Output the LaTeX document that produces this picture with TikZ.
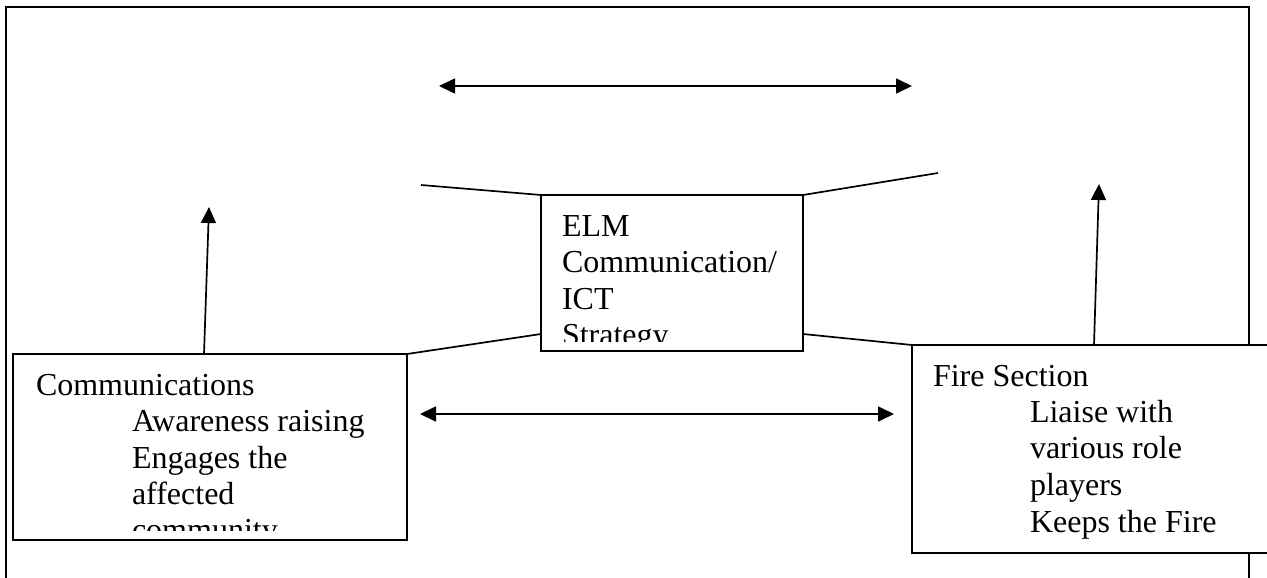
\documentclass[tikz,border=0pt]{standalone}
\usepackage{fontspec}
\setmainfont{Liberation Serif}
\usetikzlibrary{arrows.meta,calc}

\begin{document}
\begin{tikzpicture}[x=1pt,y=-1pt,
  boxnode/.style={draw,fill=white,line width=1.7pt,inner sep=0pt,outer sep=0pt,anchor=north west},
  link/.style={line width=1.7pt},
  uparrow/.style={line width=1.7pt,-{Triangle[length=16pt,width=15pt]}},
  twoway/.style={line width=1.7pt,{Triangle[length=16pt,width=15pt]}-{Triangle[length=16pt,width=15pt]}},
  txt/.style={font=\fontsize{32}{36.5}\selectfont,anchor=base west,inner sep=0pt,outer sep=0pt}
]
\useasboundingbox (0,0) rectangle (1267,578);
\clip (0,0) rectangle (1267,578);
\fill[white] (0,0) rectangle (1267,578);

% outer frame
\draw[line width=2.2pt] (6,7) rectangle (1249,620);

% boxes
\node[boxnode,minimum width=394pt,minimum height=186pt] (comm) at (13,354) {};
\node[boxnode,minimum width=262pt,minimum height=156pt] (elm) at (541,195) {};
\node[boxnode,minimum width=380pt,minimum height=208pt] (fire) at (912,345) {};

% box texts, cut at the inner margin of each box
\begin{scope}
  \clip (comm.north west) rectangle ($(comm.south east)+(0,-10)$);
  \node[txt] (c1) at (36,395) {Communications};
  \node[txt] (c2) at (132,431) {Awareness raising};
  \node[txt] (c3) at (132,468) {Engages the};
  \node[txt] (c4) at (132,504) {affected};
  \node[txt] (c5) at (132,540) {community};
\end{scope}
\begin{scope}
  \clip (elm.north west) rectangle ($(elm.south east)+(0,-10)$);
  \node[txt] (e1) at (562,236) {ELM};
  \node[txt] (e2) at (562,272) {Communication/};
  \node[txt] (e3) at (562,309) {ICT};
  \node[txt] (e4) at (562,345) {Strategy};
\end{scope}
\begin{scope}
  \clip (fire.north west) rectangle ($(fire.south east)+(0,-10)$);
  \node[txt] (f1) at (933,386) {Fire Section};
  \node[txt] (f2) at (1030,422) {Liaise with};
  \node[txt] (f3) at (1030,458) {various role};
  \node[txt] (f4) at (1030,495) {players};
  \node[txt] (f5) at (1030,532) {Keeps the Fire};
\end{scope}

% free ends
\coordinate (tl) at (421,185);
\coordinate (tr) at (938,173);
\coordinate (topL) at (439,86);
\coordinate (topR) at (912,86);
\coordinate (midL) at (420,414);
\coordinate (midR) at (894,414);
\coordinate (upL) at (209,207);
\coordinate (upR) at (1099,184);

% lines around the strategy box
\draw[link] (tl) -- (elm.north west);
\draw[link] (elm.north east) -- (tr);
\draw[link] (comm.north east) -- ($(elm.south west)+(0,-17)$);
\draw[link] ($(elm.south east)+(0,-17)$) -- (fire.north west);

% arrows
\draw[twoway] (topL) -- (topR);
\draw[twoway] (midL) -- (midR);
\draw[uparrow] ($(comm.north west)+(191,0)$) -- (upL);
\draw[uparrow] ($(fire.north west)+(182,0)$) -- (upR);
\end{tikzpicture}
\end{document}
